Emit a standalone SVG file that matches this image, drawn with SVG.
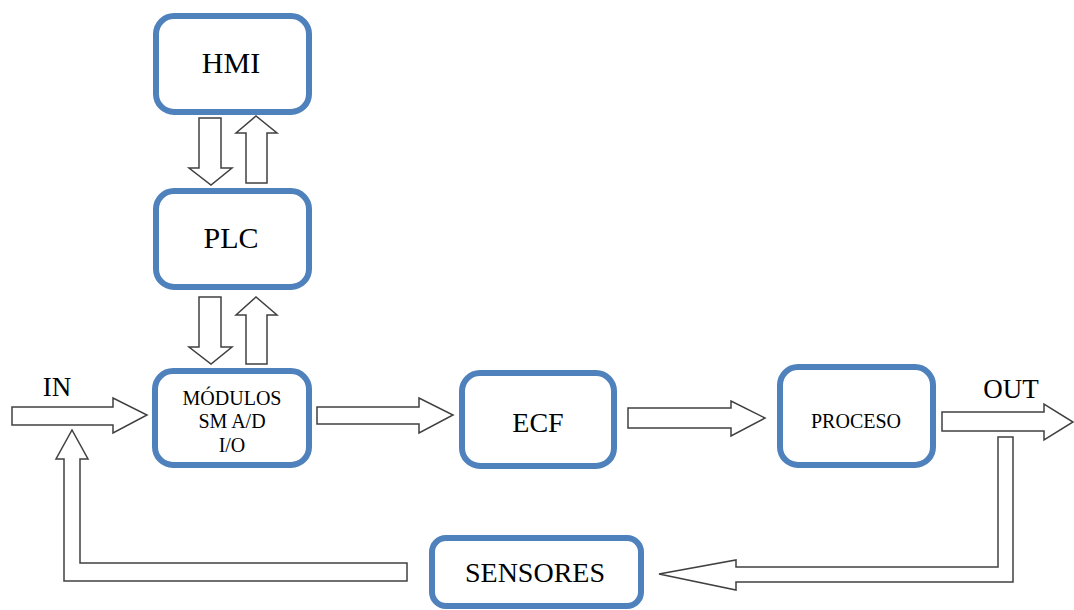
<svg xmlns="http://www.w3.org/2000/svg" width="1074" height="610" viewBox="0 0 1074 610">
  <style>
    .box { fill: #ffffff; stroke: #4f81bd; stroke-width: 6; }
    .arrow { fill: #ffffff; stroke: #404040; stroke-width: 1.5; stroke-linejoin: miter; }
    .label { font-family: "Liberation Serif", "Times New Roman", serif; fill: #000000; text-anchor: middle; }
  </style>
  <rect width="1074" height="610" fill="#ffffff"/>

  <!-- block arrows -->
  <g id="connectors">
    <!-- HMI <-> PLC -->
    <polygon class="arrow" points="199,118 221,118 221,168 232,168 211,185 189,168 199,168"/>
    <polygon class="arrow" points="246,183 267,183 267,133 277,133 256,116 236,133 246,133"/>
    <!-- PLC <-> modules -->
    <polygon class="arrow" points="199,297 221,297 221,347 232,347 211,364 189,347 199,347"/>
    <polygon class="arrow" points="246,364 267,364 267,315 277,315 256,297 236,315 246,315"/>
    <!-- input -->
    <polygon class="arrow" points="12,407 113,407 113,398 147,415 113,433 113,425 12,425"/>
    <!-- modules -> ECF -->
    <polygon class="arrow" points="317,407 419,407 419,398 453,415 419,433 419,424 317,424"/>
    <!-- ECF -> process -->
    <polygon class="arrow" points="628,408 731,408 731,401 765,418 731,436 731,428 628,428"/>
    <!-- output -->
    <polygon class="arrow" points="942,412 1044,412 1044,404 1073,422 1044,440 1044,431 942,431"/>
    <!-- output -> sensors -->
    <polygon class="arrow" points="998,437 1013,437 1013,582 736,582 736,590 659,574 736,560 736,567 998,567"/>
    <!-- sensors feedback -> input -->
    <polygon class="arrow" points="407,563 80,563 80,459 88,459 72,430 56,459 64,459 64,581 407,581"/>
  </g>

  <g id="hmi">
    <rect class="box" x="156" y="16" width="153" height="96" rx="18"/>
    <text class="label" x="231" y="73" font-size="30">HMI</text>
  </g>

  <g id="plc">
    <rect class="box" x="156" y="191" width="153" height="96" rx="18"/>
    <text class="label" x="231" y="248" font-size="30">PLC</text>
  </g>

  <g id="modulos">
    <rect class="box" x="155" y="371" width="154" height="94" rx="18"/>
    <text class="label" x="232" y="405" font-size="20">MÓDULOS</text>
    <text class="label" x="232" y="428" font-size="20">SM A/D</text>
    <text class="label" x="232" y="452" font-size="20">I/O</text>
  </g>

  <g id="ecf">
    <rect class="box" x="462" y="373" width="152" height="93" rx="18"/>
    <text class="label" x="538" y="432" font-size="28">ECF</text>
  </g>

  <g id="proceso">
    <rect class="box" x="780" y="367" width="153" height="98" rx="18"/>
    <text class="label" x="856" y="428" font-size="20">PROCESO</text>
  </g>

  <g id="sensores">
    <rect class="box" x="432" y="538" width="209" height="68" rx="14"/>
    <text class="label" x="535" y="582" font-size="28">SENSORES</text>
  </g>

  <g id="io-labels">
    <text class="label" x="57" y="396" font-size="27">IN</text>
    <text class="label" x="1011" y="398" font-size="27">OUT</text>
  </g>
</svg>
